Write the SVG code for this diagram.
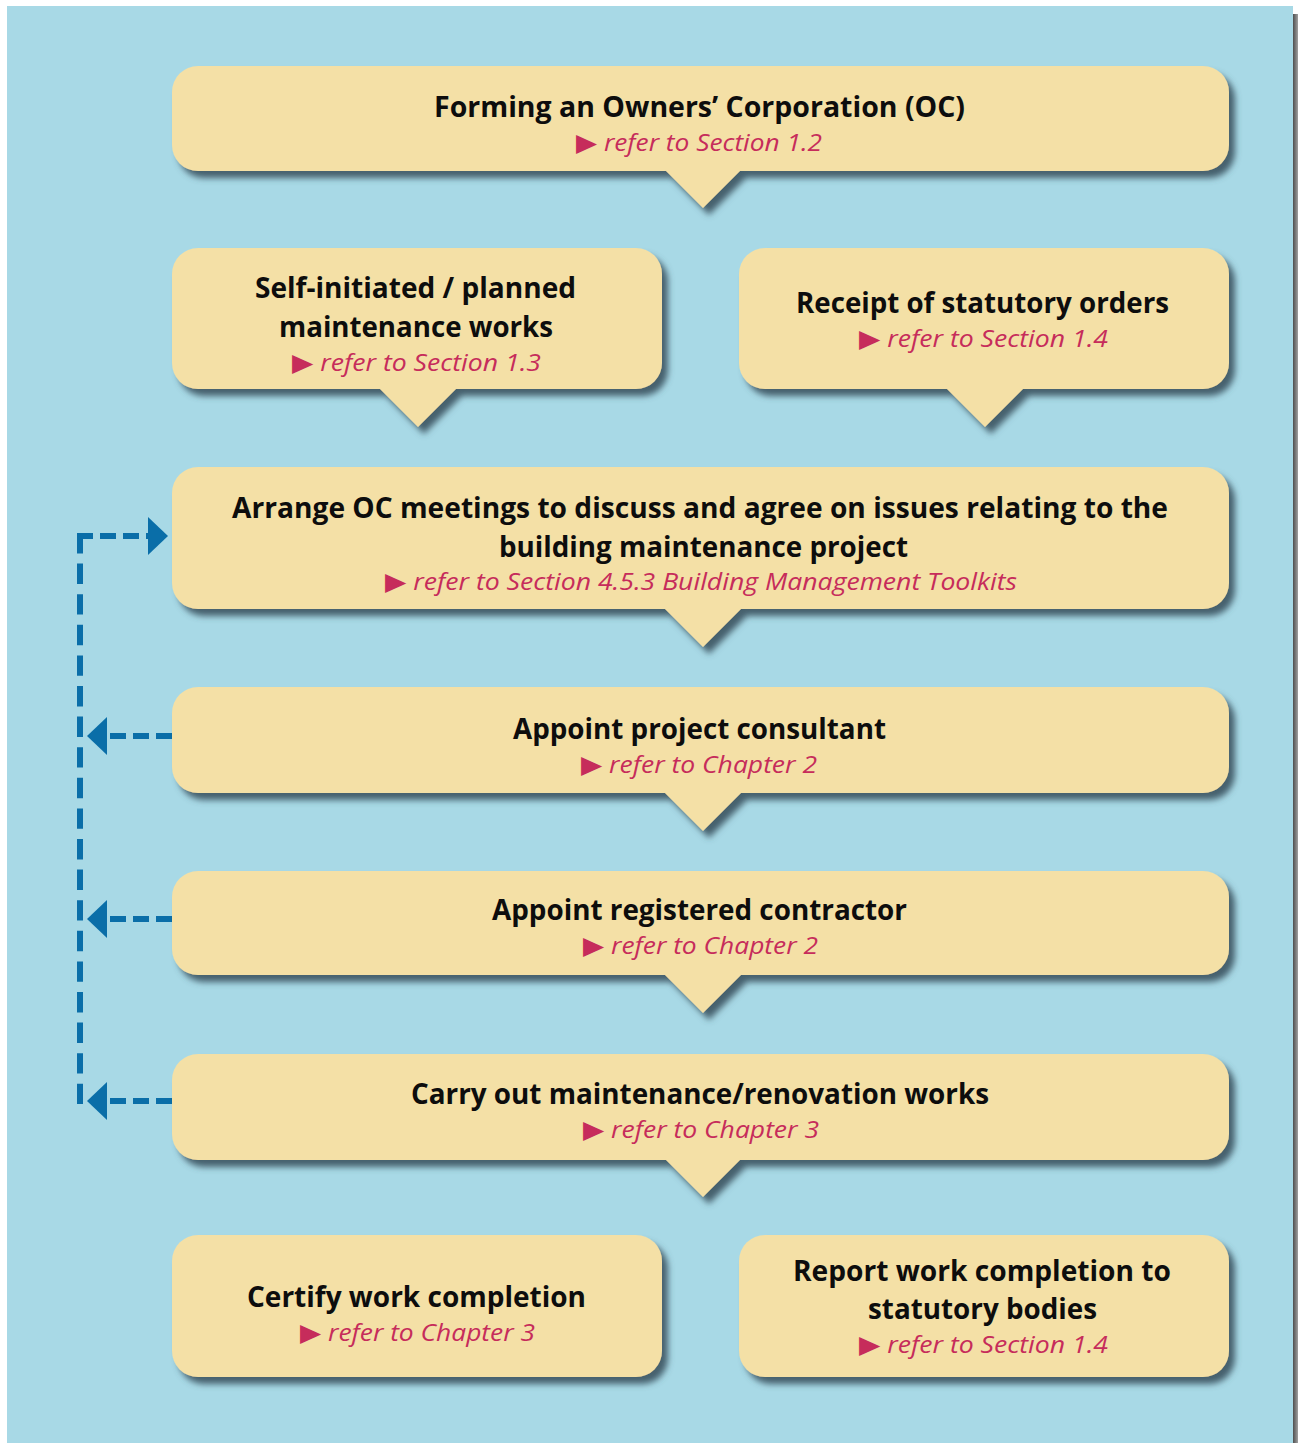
<svg xmlns="http://www.w3.org/2000/svg" width="1298" height="1443" viewBox="0 0 1298 1443">
<defs>
<filter id="sh" x="-5%" y="-10%" width="115%" height="130%">
<feDropShadow dx="6" dy="7" stdDeviation="3" flood-color="#3a5360" flood-opacity="0.9"/>
</filter>
<linearGradient id="edge" x1="0" y1="0" x2="1" y2="0">
<stop offset="0" stop-color="#4e4e4e"/>
<stop offset="1" stop-color="#a0a0a0"/>
</linearGradient>
</defs>
<style>
.box{fill:#f4e0a6;filter:url(#sh)}
.t{font-family:"Open Sans","Noto Sans","Liberation Sans",sans-serif;font-weight:700;font-size:28px;fill:#0d0d0d}
.s{font-family:"Open Sans","Noto Sans","Liberation Sans",sans-serif;font-style:italic;font-size:24px;fill:#c62c5b}
.tri{font-family:"DejaVu Sans",sans-serif;font-style:normal;font-size:25px}
.dash{fill:none;stroke:#0a6ea8;stroke-width:6;stroke-dasharray:16 7}
.vdash{fill:none;stroke:#0a6ea8;stroke-width:6;stroke-dasharray:20.4 10.2}
.ah{fill:#0a6ea8}
</style>
<rect x="0" y="0" width="1298" height="1443" fill="#ffffff"/>
<rect x="7" y="6" width="1286" height="1437" fill="#a8d9e6"/>
<rect x="1293" y="14" width="5" height="1429" fill="url(#edge)"/>

<g id="connectors">
<path class="dash" d="M77,536 H150"/>
<path class="vdash" d="M80,533 V1104"/>
<polygon class="ah" points="148,517 168,536 148,555"/>
<path class="dash" d="M172,736 H105"/>
<polygon class="ah" points="107,717 87,736 107,755"/>
<path class="dash" d="M172,919 H105"/>
<polygon class="ah" points="107,900 87,919 107,938"/>
<path class="dash" d="M172,1101 H105"/>
<polygon class="ah" points="107,1082 87,1101 107,1120"/>
</g>

<g id="n1">
<path class="box" d="M198,66 H1203 A26,26 0 0 1 1229,92 V145 A26,26 0 0 1 1203,171 H740 L703,208 L666,171 H198 A26,26 0 0 1 172,145 V92 A26,26 0 0 1 198,66 Z"/>
<text class="t" x="434" y="117" textLength="531" lengthAdjust="spacingAndGlyphs">Forming an Owners’ Corporation (OC)</text>
<text class="s" x="576" y="151" textLength="246" lengthAdjust="spacingAndGlyphs"><tspan class="tri">▶</tspan> refer to Section 1.2</text>
</g>

<g id="n2">
<path class="box" d="M198,248 H636 A26,26 0 0 1 662,274 V363 A26,26 0 0 1 636,389 H456 L418,427 L380,389 H198 A26,26 0 0 1 172,363 V274 A26,26 0 0 1 198,248 Z"/>
<text class="t" x="255" y="298" textLength="321" lengthAdjust="spacingAndGlyphs">Self-initiated / planned</text>
<text class="t" x="279" y="337" textLength="274" lengthAdjust="spacingAndGlyphs">maintenance works</text>
<text class="s" x="292" y="371" textLength="249" lengthAdjust="spacingAndGlyphs"><tspan class="tri">▶</tspan> refer to Section 1.3</text>
</g>

<g id="n3">
<path class="box" d="M765,248 H1203 A26,26 0 0 1 1229,274 V363 A26,26 0 0 1 1203,389 H1023 L985,427 L947,389 H765 A26,26 0 0 1 739,363 V274 A26,26 0 0 1 765,248 Z"/>
<text class="t" x="796" y="313" textLength="373" lengthAdjust="spacingAndGlyphs">Receipt of statutory orders</text>
<text class="s" x="859" y="347" textLength="249" lengthAdjust="spacingAndGlyphs"><tspan class="tri">▶</tspan> refer to Section 1.4</text>
</g>

<g id="n4">
<path class="box" d="M198,467 H1203 A26,26 0 0 1 1229,493 V583 A26,26 0 0 1 1203,609 H741 L703,647 L665,609 H198 A26,26 0 0 1 172,583 V493 A26,26 0 0 1 198,467 Z"/>
<text class="t" x="232" y="518" textLength="936" lengthAdjust="spacingAndGlyphs">Arrange OC meetings to discuss and agree on issues relating to the</text>
<text class="t" x="499" y="557" textLength="409" lengthAdjust="spacingAndGlyphs">building maintenance project</text>
<text class="s" x="385" y="590" textLength="632" lengthAdjust="spacingAndGlyphs"><tspan class="tri">▶</tspan> refer to Section 4.5.3 Building Management Toolkits</text>
</g>

<g id="n5">
<path class="box" d="M198,687 H1203 A26,26 0 0 1 1229,713 V767 A26,26 0 0 1 1203,793 H741 L703,831 L665,793 H198 A26,26 0 0 1 172,767 V713 A26,26 0 0 1 198,687 Z"/>
<text class="t" x="513" y="739" textLength="373" lengthAdjust="spacingAndGlyphs">Appoint project consultant</text>
<text class="s" x="581" y="773" textLength="236" lengthAdjust="spacingAndGlyphs"><tspan class="tri">▶</tspan> refer to Chapter 2</text>
</g>

<g id="n6">
<path class="box" d="M198,871 H1203 A26,26 0 0 1 1229,897 V949 A26,26 0 0 1 1203,975 H741 L703,1013 L665,975 H198 A26,26 0 0 1 172,949 V897 A26,26 0 0 1 198,871 Z"/>
<text class="t" x="492" y="920" textLength="415" lengthAdjust="spacingAndGlyphs">Appoint registered contractor</text>
<text class="s" x="583" y="954" textLength="235" lengthAdjust="spacingAndGlyphs"><tspan class="tri">▶</tspan> refer to Chapter 2</text>
</g>

<g id="n7">
<path class="box" d="M198,1054 H1203 A26,26 0 0 1 1229,1080 V1134 A26,26 0 0 1 1203,1160 H740 L703,1197 L666,1160 H198 A26,26 0 0 1 172,1134 V1080 A26,26 0 0 1 198,1054 Z"/>
<text class="t" x="411" y="1104" textLength="578" lengthAdjust="spacingAndGlyphs">Carry out maintenance/renovation works</text>
<text class="s" x="583" y="1138" textLength="236" lengthAdjust="spacingAndGlyphs"><tspan class="tri">▶</tspan> refer to Chapter 3</text>
</g>

<g id="n8">
<rect class="box" x="172" y="1235" width="490" height="142" rx="26" ry="26"/>
<text class="t" x="247" y="1307" textLength="339" lengthAdjust="spacingAndGlyphs">Certify work completion</text>
<text class="s" x="300" y="1341" textLength="235" lengthAdjust="spacingAndGlyphs"><tspan class="tri">▶</tspan> refer to Chapter 3</text>
</g>

<g id="n9">
<rect class="box" x="739" y="1235" width="490" height="142" rx="26" ry="26"/>
<text class="t" x="793" y="1281" textLength="378" lengthAdjust="spacingAndGlyphs">Report work completion to</text>
<text class="t" x="868" y="1319" textLength="229" lengthAdjust="spacingAndGlyphs">statutory bodies</text>
<text class="s" x="859" y="1353" textLength="249" lengthAdjust="spacingAndGlyphs"><tspan class="tri">▶</tspan> refer to Section 1.4</text>
</g>
</svg>
